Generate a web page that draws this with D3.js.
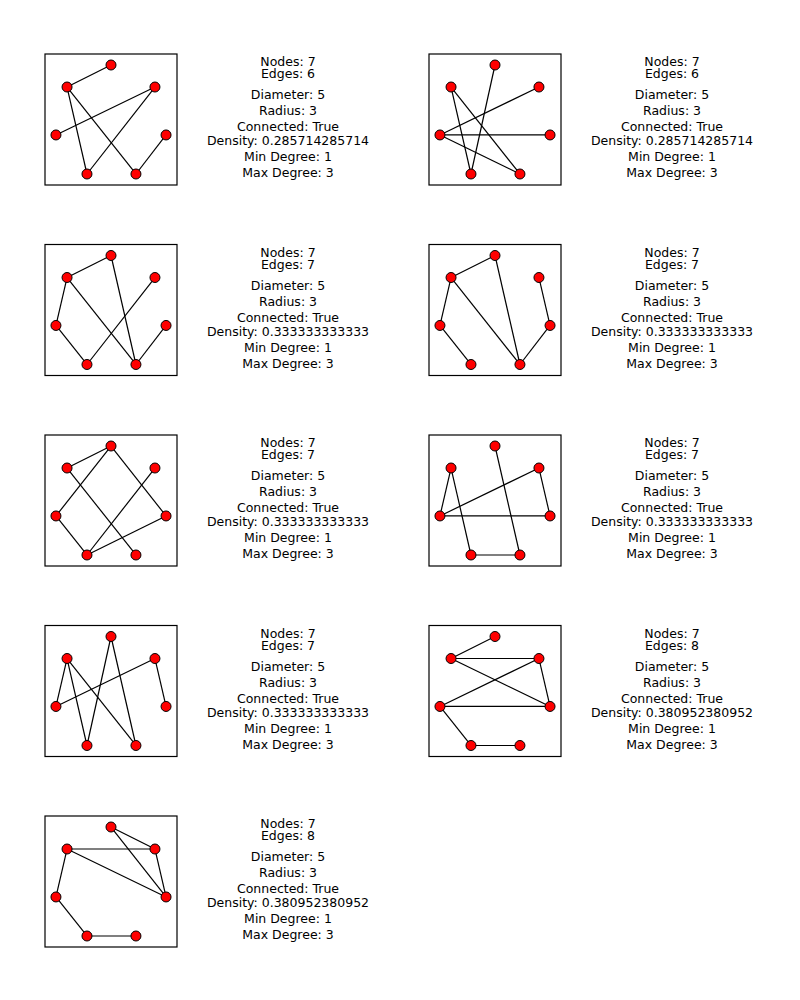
<!DOCTYPE html>
<html lang="en">
<head>
    <meta charset="UTF-8">
    <title>Graph Grid</title>
    <script src="https://d3js.org/d3.v7.min.js"></script>
    <style>
        body { margin: 0; background: white; }
        text { font-family: "DejaVu Sans", sans-serif; font-size: 12.5px; fill: #000; }
    </style>
</head>
<body>
    <div id="chart"></div>
    <script>
        // node layout, in box units (0..1)
        const nodeNames = ["A", "B", "C", "D", "E", "F", "G"];
        const nodeX = [0.50, 0.167, 0.833, 0.083, 0.917, 0.318, 0.689];
        const nodeY = [0.084, 0.252, 0.252, 0.618, 0.618, 0.916, 0.916];

        const graphEdges = [
            ["AB", "BF", "BG", "CD", "CF", "EG"],
            ["AF", "BF", "BG", "CD", "DE", "DG"],
            ["AB", "AG", "BD", "BG", "CF", "DF", "EG"],
            ["AB", "AG", "BD", "BG", "CE", "EG", "DF"],
            ["AB", "AD", "AE", "BG", "CF", "DF", "EF"],
            ["AG", "BD", "BF", "CD", "CE", "DE", "FG"],
            ["AF", "AG", "BD", "BF", "BG", "CD", "CE"],
            ["AB", "BC", "BE", "CD", "CE", "DE", "DF", "FG"],
            ["AC", "AE", "BC", "BE", "CE", "BD", "DF", "FG"]
        ];
        const densities = ["0.285714285714", "0.285714285714", "0.333333333333", "0.333333333333",
            "0.333333333333", "0.333333333333", "0.333333333333", "0.380952380952", "0.380952380952"];

        const W = 800, H = 1000;
        const svg = d3.select("#chart").append("svg").attr("width", W).attr("height", H);

        const boxW = 132, boxH = 131;
        const colX = d3.scaleLinear().domain([0, 1]).range([45, 429]);
        const rowY = d3.scaleLinear().domain([0, 1]).range([54, 244.5]);

        graphEdges.forEach((edges, i) => {
            const col = i % 2, row = Math.floor(i / 2);
            const ox = colX(col), oy = rowY(row);
            const x = d3.scaleLinear().domain([0, 1]).range([ox, ox + boxW]);
            const y = d3.scaleLinear().domain([0, 1]).range([oy, oy + boxH]);
            const g = svg.append("g");

            g.append("rect").attr("x", ox).attr("y", oy).attr("width", boxW).attr("height", boxH)
                .attr("fill", "none").attr("stroke", "#000").attr("stroke-width", 1.2);

            const idx = c => nodeNames.indexOf(c);
            g.selectAll("line").data(edges).enter().append("line")
                .attr("x1", e => x(nodeX[idx(e[0])])).attr("y1", e => y(nodeY[idx(e[0])]))
                .attr("x2", e => x(nodeX[idx(e[1])])).attr("y2", e => y(nodeY[idx(e[1])]))
                .attr("stroke", "#000").attr("stroke-width", 1.2);

            g.selectAll("circle").data(nodeNames).enter().append("circle")
                .attr("cx", (d, k) => x(nodeX[k])).attr("cy", (d, k) => y(nodeY[k]))
                .attr("r", 5).attr("fill", "#ff0000").attr("stroke", "#000").attr("stroke-width", 1);

            const lines = [
                ["Nodes: 7", 12],
                ["Edges: " + edges.length, 24],
                ["Diameter: 5", 45],
                ["Radius: 3", 61],
                ["Connected: True", 77],
                ["Density: " + densities[i], 91],
                ["Min Degree: 1", 107],
                ["Max Degree: 3", 123]
            ];
            g.selectAll("text").data(lines).enter().append("text")
                .attr("x", ox + 243).attr("y", d => oy + d[1])
                .attr("text-anchor", "middle")
                .text(d => d[0]);
        });
    </script>
</body>
</html>
